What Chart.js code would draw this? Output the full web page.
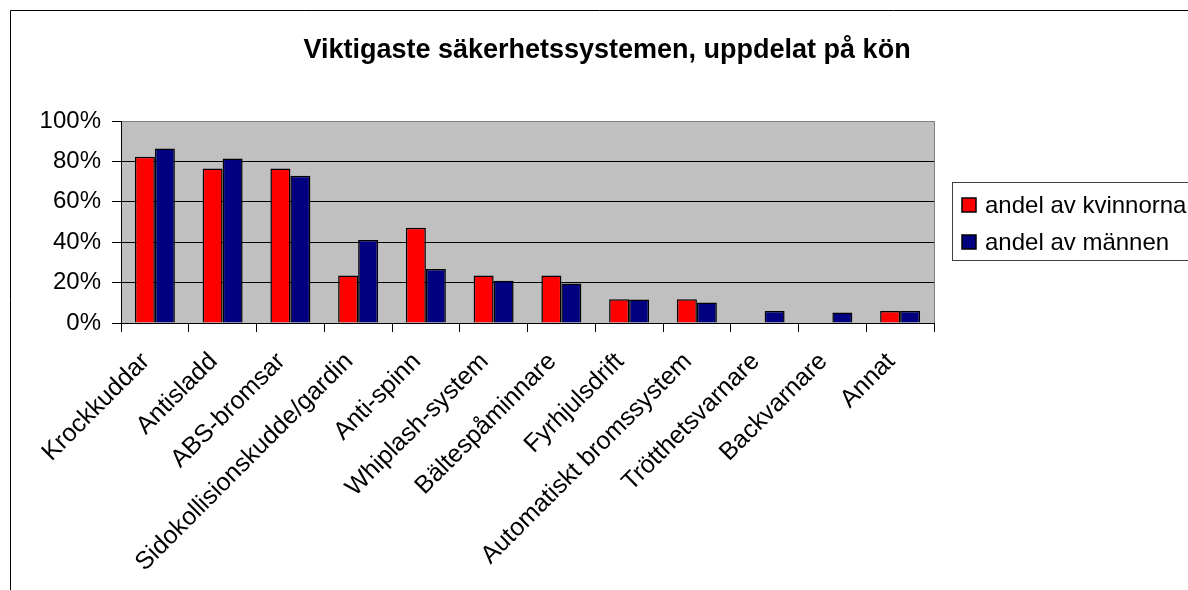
<!DOCTYPE html>
<html>
<head>
<meta charset="utf-8">
<script src="https://cdn.jsdelivr.net/npm/chart.js@4.4.0/dist/chart.umd.min.js"></script>
<style>
  html, body { margin: 0; padding: 0; background: #fff; }
  #wrap { width: 1188px; height: 590px; position: relative; }
</style>
</head>
<body>
<div id="wrap"><canvas id="chart" width="1188" height="590"></canvas></div>
<script>
// ===== DATA =====
const chartTitle = 'Viktigaste säkerhetssystemen, uppdelat på kön';
const categories = [
  'Krockkuddar', 'Antisladd', 'ABS-bromsar', 'Sidokollisionskudde/gardin',
  'Anti-spinn', 'Whiplash-system', 'Bältespåminnare', 'Fyrhjulsdrift',
  'Automatiskt bromssystem', 'Trötthetsvarnare', 'Backvarnare', 'Annat'
];
const kvinnorna = [82.3, 76.5, 76.5, 23.5, 47.1, 23.5, 23.5, 11.8, 11.8, 0, 0, 5.9];
const mannen    = [86.4, 81.4, 72.9, 41.1, 26.7, 20.9, 19.5, 11.6, 10.2, 5.9, 5.2, 5.9];
const seriesNames = ['andel av kvinnorna', 'andel av männen'];
const yTickValues = [0, 20, 40, 60, 80, 100];

const FONT = 'Arial, "Liberation Sans", sans-serif';

// ===== DECOR (background, title, legend, frame) =====
const decor = {
  id: 'decor',
  beforeDraw(chart) {
    const a = chart.chartArea;
    const ctx = chart.ctx;
    ctx.save();
    ctx.fillStyle = '#c0c0c0';
    ctx.fillRect(a.left, a.top, a.right - a.left, a.bottom - a.top);
    ctx.restore();
  },
  afterDraw(chart) {
    const a = chart.chartArea;
    const ctx = chart.ctx;
    ctx.save();

    // outer frame (top + left visible)
    ctx.strokeStyle = '#000';
    ctx.lineWidth = 1;
    ctx.beginPath();
    ctx.moveTo(10.5, 590);
    ctx.lineTo(10.5, 10.5);
    ctx.lineTo(1188, 10.5);
    ctx.stroke();

    // plot right border
    ctx.strokeStyle = '#808080';
    ctx.beginPath();
    ctx.moveTo(a.right + 0.5, a.top);
    ctx.lineTo(a.right + 0.5, a.bottom);
    ctx.stroke();

    // title
    ctx.fillStyle = '#000';
    ctx.font = 'bold 27px ' + FONT;
    ctx.textAlign = 'center';
    ctx.textBaseline = 'middle';
    ctx.fillText(chartTitle, 607, 51);

    // legend
    ctx.strokeStyle = '#404040';
    ctx.strokeRect(952.5, 182.5, 260, 78);
    ctx.font = '24px ' + FONT;
    ctx.textAlign = 'left';
    chart.data.datasets.forEach((ds, i) => {
      const cy = 205 + i * 37;
      ctx.fillStyle = ds.backgroundColor;
      ctx.fillRect(962, cy - 7, 14, 14);
      ctx.strokeStyle = '#000';
      ctx.lineWidth = 1.5;
      ctx.strokeRect(962, cy - 7, 14, 14);
      ctx.fillStyle = '#000';
      ctx.fillText(ds.label, 985, cy + 1);
    });
    ctx.restore();
  }
};

// ===== CHART =====
new Chart(document.getElementById('chart'), {
  type: 'bar',
  data: {
    labels: categories,
    datasets: [
      { label: seriesNames[0], data: kvinnorna, backgroundColor: '#ff0000', borderColor: '#000', borderWidth: 1.5 },
      { label: seriesNames[1], data: mannen, backgroundColor: '#000080', borderColor: '#000', borderWidth: 1.5 }
    ]
  },
  options: {
    responsive: false,
    animation: false,
    devicePixelRatio: 1,
    layout: { padding: { left: 10, top: 121, right: 254, bottom: 0 } },
    datasets: { bar: { categoryPercentage: 0.59, barPercentage: 1 } },
    plugins: {
      legend: { display: false },
      title: { display: false },
      tooltip: { enabled: false }
    },
    scales: {
      x: {
        grid: { offset: true, drawOnChartArea: false, tickLength: 9, color: '#000', tickColor: '#000' },
        border: { color: '#000' },
        ticks: {
          color: '#000', minRotation: 45, maxRotation: 45, padding: 15, labelOffset: -9,
          font: { family: FONT, size: 25 }
        },
        afterFit: s => { s.height = 267; }
      },
      y: {
        min: 0, max: 100,
        afterBuildTicks: s => { s.ticks = yTickValues.map(v => ({ value: v })); },
        grid: {
          color: c => (c.tick && c.tick.value === 100) ? '#808080' : '#000',
          tickColor: '#000', tickLength: 9
        },
        border: { color: '#000' },
        ticks: {
          color: '#000', padding: 11,
          font: { family: FONT, size: 24 },
          callback: v => v + '%'
        },
        afterFit: s => { s.width = 111; }
      }
    }
  },
  plugins: [decor]
});
</script>
</body>
</html>
